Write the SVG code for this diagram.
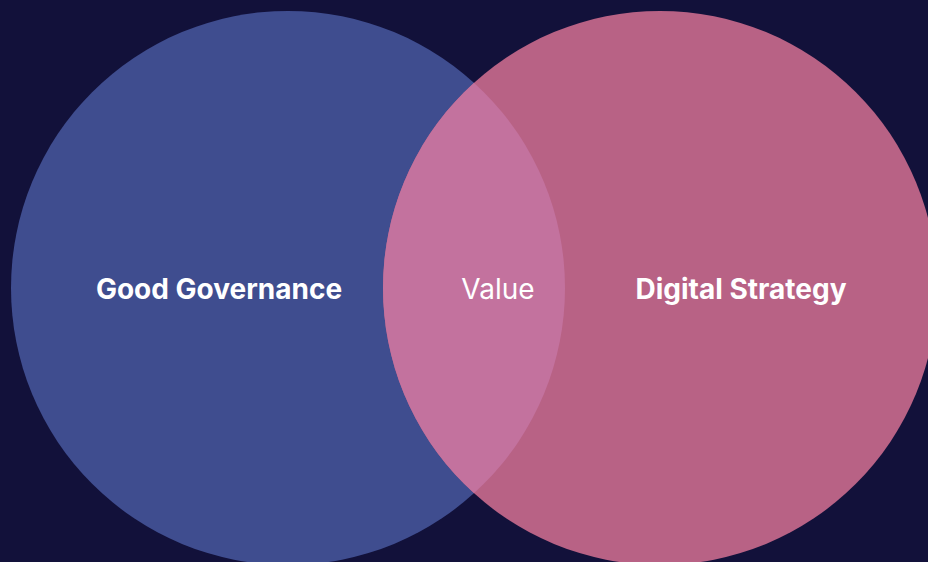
<svg xmlns="http://www.w3.org/2000/svg" width="928" height="562" viewBox="0 0 928 562">
<style>
.lbl{font-family:Inter,"Noto Sans","Liberation Sans",sans-serif;fill:#ffffff;text-anchor:middle;font-size:28px}
.b{font-weight:700}
.r{font-weight:400}
</style>
<defs>
<clipPath id="clipL"><circle cx="288" cy="288" r="277"/></clipPath>
</defs>
<rect width="928" height="562" fill="#12113a"/>
<g id="good-governance">
<circle cx="288" cy="288" r="277" fill="#3f4d8f"/>
</g>
<g id="digital-strategy">
<circle cx="660" cy="288" r="277" fill="#b86285"/>
</g>
<g id="value">
<circle cx="660" cy="288" r="277" fill="#c3729e" clip-path="url(#clipL)"/>
</g>
<g id="labels">
<text class="lbl b" x="219" y="299">Good Governance</text>
<text class="lbl r" x="498" y="299">Value</text>
<text class="lbl b" x="741" y="299">Digital Strategy</text>
</g>
<g id="connectors"/>
</svg>
